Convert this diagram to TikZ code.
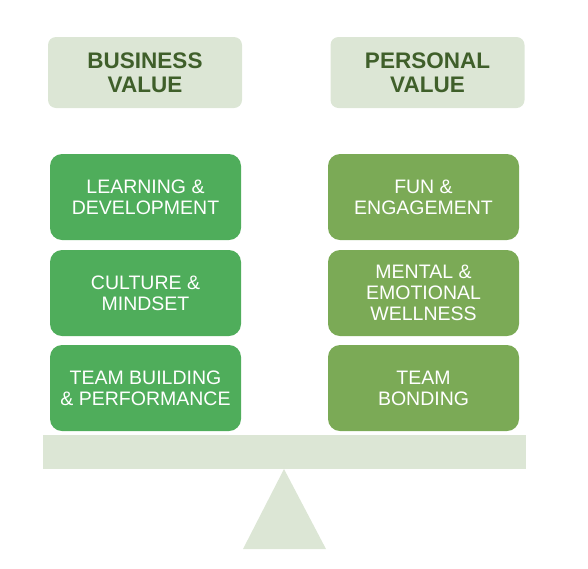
\documentclass[tikz,border=0pt]{standalone}
\usepackage{fontspec}
\setmainfont{Liberation Sans}
\definecolor{palesage}{HTML}{DCE6D5}
\definecolor{darkleaf}{HTML}{3F5F2A}
\definecolor{bizgreen}{HTML}{4FAD5B}
\definecolor{pergreen}{HTML}{7BAA56}
\begin{document}
\begin{tikzpicture}[x=1pt,y=-1pt,
  header/.style={fill=palesage,rounded corners=8pt,minimum width=194pt,minimum height=71pt,
    align=center,text=darkleaf,font=\fontsize{22.5}{24}\selectfont\bfseries},
  valuebox/.style={rounded corners=12pt,minimum width=191pt,minimum height=86pt,
    align=center,text=white,font=\fontsize{19.5}{21}\selectfont}]
  \useasboundingbox (0,0) rectangle (588,568);
  % headers
  \node[header] (bizhead) at (145,72.5) {BUSINESS\\VALUE};
  \node[header] (perhead) at (427.5,72.5) {PERSONAL\\VALUE};
  % left column
  \node[valuebox,fill=bizgreen] (learn) at (145.5,197) {LEARNING \&\\DEVELOPMENT};
  \node[valuebox,fill=bizgreen] (culture) at (145.5,293) {CULTURE \&\\MINDSET};
  \node[valuebox,fill=bizgreen] (teamperf) at (145.5,388) {TEAM BUILDING\\\& PERFORMANCE};
  % right column
  \node[valuebox,fill=pergreen] (fun) at (423.5,197) {FUN \&\\ENGAGEMENT};
  \node[valuebox,fill=pergreen] (wellness) at (423.5,293) {MENTAL \&\\EMOTIONAL\\WELLNESS};
  \node[valuebox,fill=pergreen] (bonding) at (423.5,388) {TEAM\\BONDING};
  % seesaw
  \fill[palesage] (43,435) rectangle (526,469);
  \fill[palesage] (284,469) -- (326,549) -- (243,549) -- cycle;
\end{tikzpicture}
\end{document}
